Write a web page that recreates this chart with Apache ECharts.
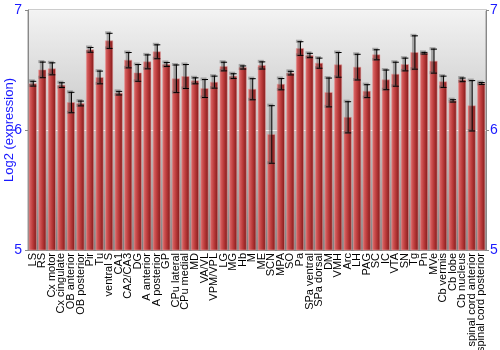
<!DOCTYPE html>
<html><head><meta charset="utf-8">
<script src="https://cdn.jsdelivr.net/npm/echarts@6/dist/echarts.min.js"></script>
<style>html,body{margin:0;padding:0;background:#fff}#c{width:500px;height:350px}</style>
</head><body><div id="c"></div>
<script>
const categories = ["LS","RS","Cx motor","Cx cingulate","OB anterior","OB posterior","Pir","Tu","ventral S","CA1","CA2/CA3","DG","A anterior","A posterior","GP","CPu lateral","CPu medial","MD","VA/VL","VPM/VPL","LG","MG","Hb","M","ME","SCN","MPA","SO","Pa","SPa ventral","SPa dorsal","DM","VMH","Arc","LH","PAG","SC","IC","VTA","SN","Tg","Pn","MVe","Cb vermis","Cb lobe","Cb nucleus","spinal cord anterior","spinal cord posterior"];
const values = [6.39,6.505,6.514,6.378,6.233,6.225,6.672,6.442,6.747,6.311,6.586,6.48,6.572,6.656,6.55,6.431,6.45,6.414,6.35,6.403,6.533,6.453,6.525,6.344,6.542,5.967,6.386,6.478,6.683,6.625,6.561,6.317,6.547,6.11,6.528,6.328,6.631,6.422,6.469,6.55,6.65,6.644,6.578,6.406,6.247,6.422,6.206,6.392];
const errors = [0.02,0.065,0.05,0.02,0.085,0.02,0.02,0.053,0.063,0.015,0.064,0.07,0.058,0.058,0.017,0.115,0.1,0.025,0.075,0.05,0.036,0.02,0.013,0.088,0.03,0.24,0.047,0.015,0.057,0.018,0.042,0.12,0.103,0.13,0.107,0.054,0.042,0.082,0.1,0.053,0.139,0.007,0.1,0.047,0.01,0.015,0.21,0.008];
const yTicks = [5,6,7];
const yTitle = 'Log2 (expression)';

const errData = values.map((v,i)=>[i, v-errors[i], v+errors[i]]);
const chart = echarts.init(document.getElementById('c'), null, {renderer:'canvas'});
const blue = '#1a1aff';
chart.setOption({
  animation:false,
  graphic:[{type:'text',x:9,y:130,rotation:Math.PI/2,
    style:{text:yTitle,fill:blue,fontSize:13,fontFamily:'Liberation Sans',align:'center',verticalAlign:'middle'}}],
  grid:{left:28,right:14,top:10,bottom:100,show:true,borderColor:'#999',borderWidth:1,
    containLabel:false,outerBoundsMode:'none',
    backgroundColor:new echarts.graphic.LinearGradient(0,0,0,1,[{offset:0,color:'#f3f3f3'},{offset:0.5,color:'#c6c6c6'},{offset:1,color:'#7f7f7f'}])},
  xAxis:{type:'category',data:categories,
    axisLine:{show:true,lineStyle:{color:'#888'}},axisTick:{show:false},
    axisLabel:{interval:0,rotate:90,fontSize:11,color:'#000',fontFamily:'Liberation Sans',margin:3}},
  yAxis:[{type:'value',min:5,max:7,interval:1,
    axisLine:{show:true,lineStyle:{color:'#888'}},axisTick:{show:true,length:3,lineStyle:{color:'#888'}},
    axisLabel:{color:blue,fontSize:14,fontFamily:'Liberation Sans',margin:6,formatter:v=>yTicks.includes(v)?String(v):''},
    splitLine:{show:true,lineStyle:{color:'#ffffff',width:1,opacity:0.8}}},
   {type:'value',min:5,max:7,interval:1,position:'right',
    axisLine:{show:true,lineStyle:{color:'#888'}},axisTick:{show:true,length:3,lineStyle:{color:'#888'}},
    axisLabel:{color:blue,fontSize:14,fontFamily:'Liberation Sans',margin:4,formatter:v=>yTicks.includes(v)?String(v):''},
    splitLine:{show:false}}],
  series:[{type:'bar',data:values,barCategoryGap:'13%',clip:true,
    itemStyle:{color:new echarts.graphic.LinearGradient(0,0,1,0,[{offset:0,color:'#c94a4a'},{offset:0.15,color:'#d66060'},{offset:0.5,color:'#bb3b3b'},{offset:1,color:'#7c1717'}]),
      borderColor:'rgba(235,160,160,0.55)',borderWidth:1}},
   {type:'custom',data:errData,z:5,
    renderItem:function(params,api){
      const x=api.coord([api.value(0),api.value(1)])[0];
      const lo=api.coord([api.value(0),api.value(1)])[1];
      const hi=api.coord([api.value(0),api.value(2)])[1];
      const w=3;
      const sh={stroke:'rgba(90,90,90,0.45)',lineWidth:3};
      const bl={stroke:'#000',lineWidth:1};
      return {type:'group',children:[
        {type:'line',shape:{x1:x-1,y1:hi,x2:x-1,y2:lo},style:sh},
        {type:'line',shape:{x1:x-w-1,y1:hi,x2:x+w-1,y2:hi},style:sh},
        {type:'line',shape:{x1:x-w-1,y1:lo,x2:x+w-1,y2:lo},style:sh},
        {type:'line',shape:{x1:x+0.5,y1:hi,x2:x+0.5,y2:lo},style:bl},
        {type:'line',shape:{x1:x-w+0.5,y1:hi+0.5,x2:x+w+0.5,y2:hi+0.5},style:bl},
        {type:'line',shape:{x1:x-w+0.5,y1:lo+0.5,x2:x+w+0.5,y2:lo+0.5},style:bl}
      ]};
    }}]
});
</script></body></html>
